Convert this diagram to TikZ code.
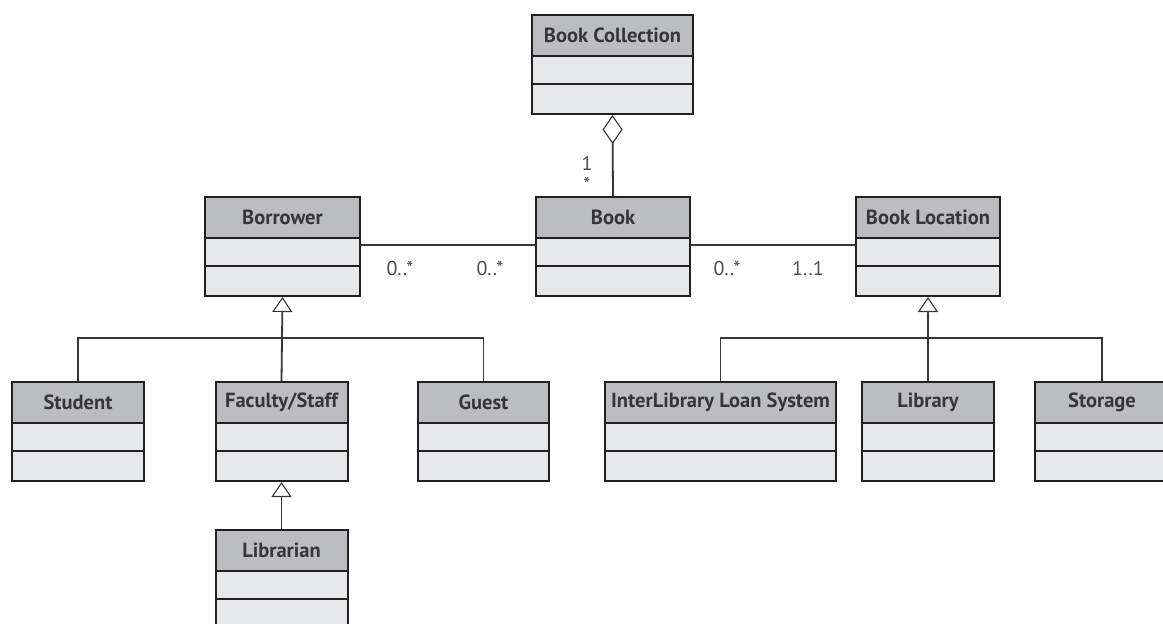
\documentclass[tikz,border=0pt]{standalone}
\usepackage{fontspec}
\setmainfont{PT Sans}
\usetikzlibrary{arrows.meta,calc}

\definecolor{headgray}{HTML}{BCBDC0}
\definecolor{bodygray}{HTML}{E6E7E8}
\definecolor{ink}{HTML}{231F20}

\tikzset{
  classbody/.style={draw=ink, line width=2pt, fill=bodygray, minimum height=99pt, inner sep=0pt},
  classhead/.style={draw=ink, line width=2pt, fill=headgray, minimum height=41pt, inner sep=0pt,
    font=\fontsize{20.5}{22}\selectfont\bfseries, text=ink!90},
  compline/.style={draw=ink, line width=2pt},
  link/.style={draw=ink!90, line width=1.8pt},
  mult/.style={font=\fontsize{20}{22}\selectfont, text=ink!80, inner sep=0pt},
  gen/.style={link, -{Triangle[open, width=20pt, length=15pt, line width=1.1pt]}},
  agg/.style={link, {Diamond[open, width=20pt, length=29pt, line width=1.1pt]}-},
}

% class box: name, centre x, top y, width, title
\newcommand\umlclass[5]{%
  \node[classbody, minimum width=#4, anchor=north] (#1) at (#2,-#3) {};
  \node[classhead, minimum width=#4, anchor=north] (#1-head) at (#1.north) {#5};
  \draw[compline] ($(#1.north west)+(0,-70)$) -- ($(#1.north east)+(0,-70)$);
}

\begin{document}
\begin{tikzpicture}[x=1pt, y=1pt]
\useasboundingbox (0,0) rectangle (1163,-624);
\clip (0,0) rectangle (1163,-624);

% classes
\umlclass{bc}{612.5}{14}{161}{Book Collection}
\umlclass{borrower}{282.5}{196}{155}{Borrower}
\umlclass{book}{613}{196}{154}{Book}
\umlclass{loc}{928}{196}{144}{Book Location}
\umlclass{student}{78}{381}{132}{Student}
\umlclass{faculty}{281.5}{381}{132}{Faculty/Staff}
\umlclass{guest}{483.5}{381}{131}{Guest}
\umlclass{ill}{720.5}{381}{231}{InterLibrary Loan System}
\umlclass{library}{928}{381}{132}{Library}
\umlclass{storage}{1102}{381}{134}{Storage}
\umlclass{librarian}{281.5}{529}{132}{Librarian}

% aggregation
\draw[agg] (bc.south) -- (book.north);
\node[mult] (m1) at (587,-163) {1};
\node[mult] (m2) at (587,-184) {*};

% associations
\draw[link] (borrower.east |- 0,-245) -- (book.west |- 0,-245);
\draw[link] (book.east |- 0,-245) -- (loc.west |- 0,-245);
\node[mult] (m3) at (400,-268) {0..*};
\node[mult] (m4) at (490,-268) {0..*};
\node[mult] (m5) at (727,-268) {0..*};
\node[mult] (m6) at (808,-268) {1..1};

% generalisation: borrowers
\coordinate (bbus) at (281.5,-338);
\draw[link] (student.north) |- (bbus) -| (guest.north);
\draw[gen] (faculty.north) -- (borrower.south);
\draw[gen] (librarian.north) -- (faculty.south);

% generalisation: locations
\coordinate (lbus) at (928,-338);
\draw[link] (ill.north) |- (lbus) -| (storage.north);
\draw[gen] (library.north) -- (loc.south);
\end{tikzpicture}
\end{document}
